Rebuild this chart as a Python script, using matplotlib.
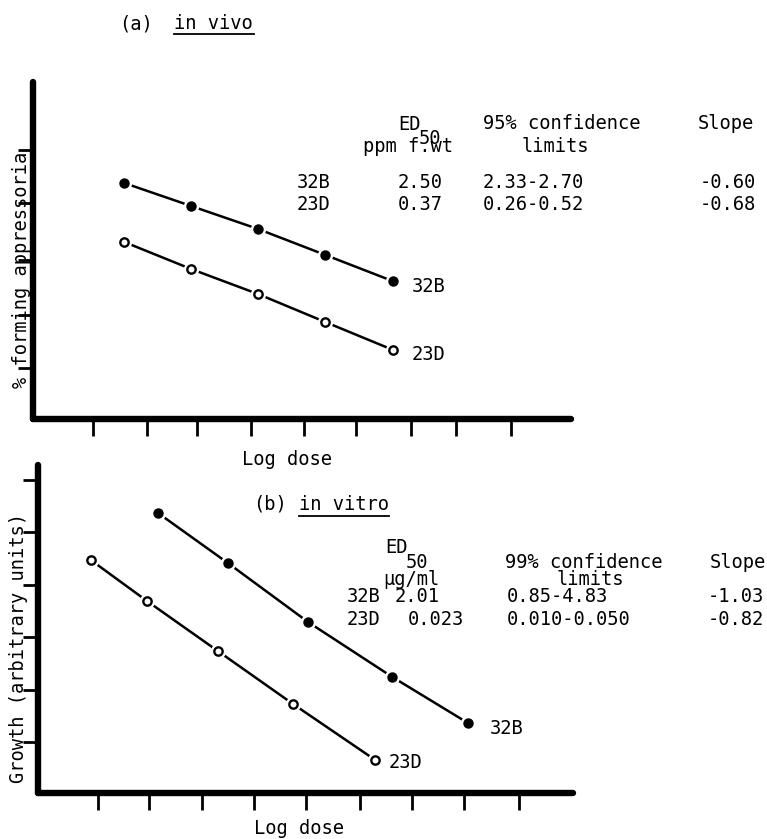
import matplotlib
matplotlib.use("Agg")
import matplotlib.pyplot as plt
from matplotlib.lines import Line2D

# ── data (arbitrary units 0-10 on both axes) ─────────────────────────────────
strains = ["32B", "23D"]

# (a) in vivo
a_x_32b = [1.70, 2.94, 4.18, 5.43, 6.69]
a_y_32b = [7.00, 6.32, 5.64, 4.87, 4.09]
a_x_23d = [1.70, 2.94, 4.18, 5.43, 6.69]
a_y_23d = [5.25, 4.45, 3.71, 2.88, 2.05]
a_xticks = [1.12, 2.12, 3.05, 4.05, 5.04, 6.00, 7.03, 7.86, 8.88]
a_yticks = [1.51, 3.09, 4.72, 6.41, 7.98]
a_ed50 = ["2.50", "0.37"]
a_ci = ["2.33-2.70", "0.26-0.52"]
a_slope = ["-0.60", "-0.68"]

# (b) in vitro
b_x_32b = [2.24, 3.55, 5.05, 6.62, 8.04]
b_y_32b = [8.54, 7.01, 5.21, 3.54, 2.13]
b_x_23d = [0.99, 2.04, 3.36, 4.77, 6.30]
b_y_23d = [7.10, 5.85, 4.33, 2.71, 1.01]
b_xticks = [1.12, 2.07, 3.07, 4.04, 5.01, 6.02, 6.99, 7.96, 8.99]
b_yticks = [1.55, 3.14, 4.76, 6.34, 7.96, 9.54]
b_ed50 = ["2.01", "0.023"]
b_ci = ["0.85-4.83", "0.010-0.050"]
b_slope = ["-1.03", "-0.82"]

# ── style ────────────────────────────────────────────────────────────────────
W, H = 767, 839
FONT = "DejaVu Sans Mono"
FS = 13.5
plt.rcParams.update({"font.family": FONT, "font.size": FS, "text.color": "black"})

fig = plt.figure(figsize=(W / 100, H / 100), dpi=100, facecolor="white")


def put(x, y, s, **kw):
    # x, y in image pixels (y = baseline, from top)
    kw.setdefault("va", "baseline")
    kw.setdefault("ha", "left")
    fig.text(x / W, 1 - y / H, s, **kw)


def uline(x0, x1, y):
    fig.add_artist(Line2D([x0 / W, x1 / W], [1 - y / H, 1 - y / H],
                          transform=fig.transFigure, color="black", lw=1.3))


def make_axes(left, right, bottom, top, xt, yt):
    ax = fig.add_axes([left / W, 1 - bottom / H, (right - left) / W, (bottom - top) / H])
    ax.set_xlim(0, 10)
    ax.set_ylim(0, 10)
    ax.patch.set_alpha(0)
    for s in ("top", "right"):
        ax.spines[s].set_visible(False)
    for s in ("left", "bottom"):
        ax.spines[s].set_linewidth(4.6)
        ax.spines[s].set_capstyle("round")
    ax.set_xticks(xt)
    ax.set_yticks(yt)
    ax.tick_params(axis="x", direction="out", length=12, width=2, labelbottom=False)
    ax.tick_params(axis="y", direction="out", length=11, width=2, labelleft=False)
    return ax


def curve(ax, xs, ys, filled):
    ax.plot(xs, ys, color="black", lw=1.8, zorder=2, clip_on=False)
    ax.plot(xs, ys, ls="none", marker="o", ms=11, mfc="white", mec="none", zorder=3, clip_on=False)
    if filled:
        ax.plot(xs, ys, ls="none", marker="o", ms=6.5, mfc="black", mec="black", zorder=4, clip_on=False)
    else:
        ax.plot(xs, ys, ls="none", marker="o", ms=6, mfc="white", mec="black", mew=1.7, zorder=4, clip_on=False)


def end_label(ax, xs, ys, s, dx, dy):
    ax.annotate(s, xy=(xs[-1], ys[-1]), xytext=(dx, dy), textcoords="offset pixels",
                ha="left", va="center", fontsize=FS)


# ── (a) in vivo ──────────────────────────────────────────────────────────────
ax_a = make_axes(33, 571, 419, 82, a_xticks, a_yticks)
curve(ax_a, a_x_32b, a_y_32b, True)
curve(ax_a, a_x_23d, a_y_23d, False)
end_label(ax_a, a_x_32b, a_y_32b, strains[0], 19, -5)
end_label(ax_a, a_x_23d, a_y_23d, strains[1], 19, -5)

put(119, 29, "(a)")
put(174, 29, "in vivo")
uline(174, 254, 34)

put(398, 130, "ED")
put(419, 144, "50")
put(363, 152, "ppm f.wt")
put(483, 129, "95% confidence")
put(522, 152, "limits")
put(698, 129, "Slope")
for i, yb in enumerate([188, 210]):
    put(297, yb, strains[i])
    put(398, yb, a_ed50[i])
    put(483, yb, a_ci[i])
    put(700, yb, a_slope[i])

put(287, 465, "Log dose", ha="center")
fig.text(22 / W, 1 - 270 / H, "% forming appressoria", rotation=90, ha="center", va="center")

# ── (b) in vitro ─────────────────────────────────────────────────────────────
ax_b = make_axes(38, 573, 793, 465, b_xticks, b_yticks)
curve(ax_b, b_x_32b, b_y_32b, True)
curve(ax_b, b_x_23d, b_y_23d, False)
end_label(ax_b, b_x_32b, b_y_32b, strains[0], 22, -5)
end_label(ax_b, b_x_23d, b_y_23d, strains[1], 14, -3)

put(253, 510, "(b)")
put(299, 510, "in vitro")
uline(299, 389, 516)

put(385, 553, "ED")
put(406, 568, "50")
put(383, 585, "\u00b5g/ml")
put(505, 568, "99% confidence")
put(557, 585, "limits")
put(710, 568, "Slope")
for i, yb in enumerate([602, 625]):
    put(347, yb, strains[i])
    put(395 if i == 0 else 408, yb, b_ed50[i])
    put(507, yb, b_ci[i])
    put(708, yb, b_slope[i])

put(299, 834, "Log dose", ha="center")
fig.text(19 / W, 1 - 648 / H, "Growth (arbitrary units)", rotation=90, ha="center", va="center")

fig.savefig("out.png", dpi=100, facecolor="white")
